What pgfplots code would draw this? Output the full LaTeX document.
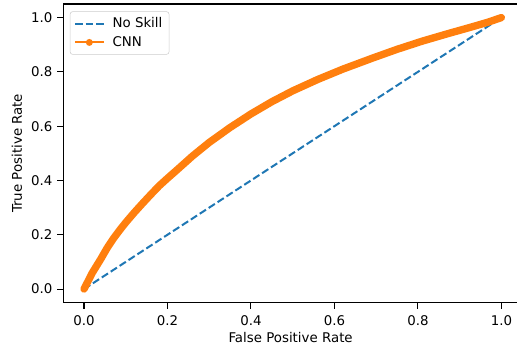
\documentclass[border=0pt]{standalone}
\usepackage{pgfplots}
\pgfplotsset{compat=1.18}
\usepackage{fontspec}
\setmainfont{DejaVu Sans}
\definecolor{mplblue}{HTML}{1F77B4}
\definecolor{mplorange}{HTML}{FF7F0E}
\begin{document}
\begin{tikzpicture}
\begin{axis}[
  scale only axis,
  width=340.5pt, height=223.5pt,
  xmin=-0.05, xmax=1.04,
  ymin=-0.05, ymax=1.05,
  xtick={0,0.2,0.4,0.6,0.8,1.0},
  ytick={0,0.2,0.4,0.6,0.8,1.0},
  xtick pos=bottom, ytick pos=left,
  tick align=outside,
  major tick length=4.5pt,
  tick style={black, line width=0.8pt},
  axis line style={black, line width=0.8pt},
  /pgf/number format/assume math mode=true,
  /pgf/number format/fixed,
  /pgf/number format/fixed zerofill,
  /pgf/number format/precision=1,
  ticklabel style={font=\fontsize{10}{12}\selectfont},
  xticklabel style={yshift=-2pt},
  label style={font=\fontsize{10}{12}\selectfont},
  xlabel={False Positive Rate},
  ylabel={True Positive Rate},
  xlabel shift=-2pt,
  ylabel shift=0pt,
  legend cell align=left,
  legend image code/.code={
    \draw[mark repeat=2,mark phase=2,#1] plot coordinates {(0cm,0cm) (0.375cm,0cm) (0.75cm,0cm)};},
  legend style={at={(axis description cs:0,1)}, anchor=north west,
    xshift=5pt, yshift=-5.5pt, draw=black!20, rounded corners=2pt,
    fill=white, font=\fontsize{10}{12}\selectfont,
    inner xsep=3pt, inner ysep=2.5pt, row sep=1pt, column sep=4pt},
]
\addplot[mplblue, line width=1.5pt, dash pattern=on 5.55pt off 2.4pt]
  coordinates {(0,0) (1,1)};
\addlegendentry{No Skill}
\addplot[mplorange, line width=5.5pt, line cap=round, line join=round, forget plot]
  coordinates {
  (0,0) (0.01,0.03) (0.02,0.06) (0.03,0.085) (0.04,0.11) (0.055,0.15)
  (0.07,0.185) (0.085,0.216) (0.10,0.245) (0.12,0.281)
  (0.14,0.315) (0.16,0.348) (0.18,0.38) (0.20,0.408) (0.22,0.435) (0.26,0.49) (0.30,0.54)
  (0.35,0.595) (0.40,0.645) (0.45,0.69) (0.50,0.73) (0.56,0.772)
  (0.62,0.81) (0.69,0.85) (0.75,0.883) (0.81,0.913) (0.87,0.94)
  (0.93,0.966) (0.97,0.984) (1.0,1.0)
  };
\addlegendimage{mplorange, line width=1.5pt, mark=*, mark size=1.8pt, mark options={solid}}
\addlegendentry{CNN}
\end{axis}
\pgfresetboundingbox
\path ([xshift=-47.25pt, yshift=-37.5pt]current axis.south west)
  rectangle ([xshift=-0.8pt, yshift=3pt]current axis.north east);
\end{tikzpicture}
\end{document}
